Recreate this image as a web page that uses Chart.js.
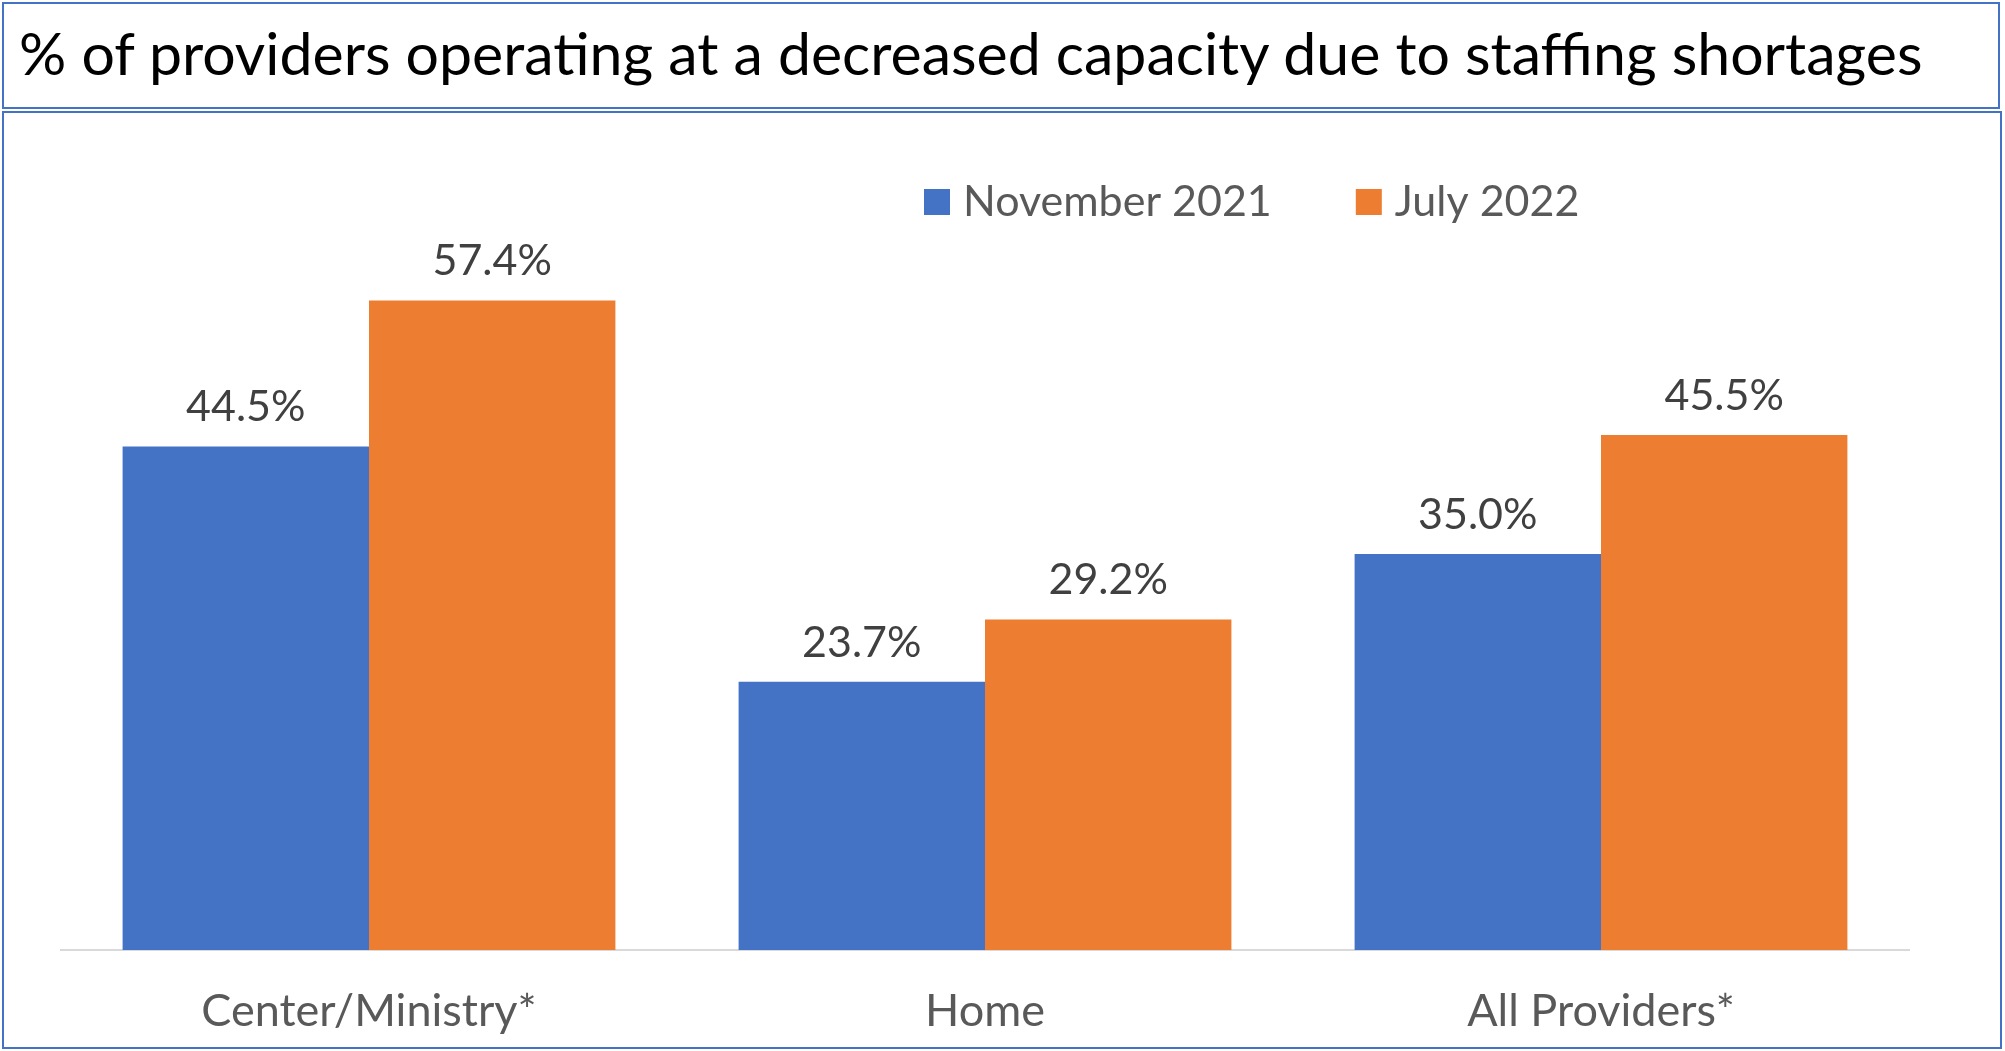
<!DOCTYPE html>
<html>
<head>
<meta charset="utf-8">
<script src="https://cdn.jsdelivr.net/npm/chart.js@4.4.1/dist/chart.umd.min.js"></script>
<style>
  body { margin: 0; width: 2005px; height: 1051px; background: #fff; overflow: hidden; position: relative; }
  #title {
    position: absolute; left: 2px; top: 2px; width: 1998px; height: 107px;
    box-sizing: border-box; border: 2px solid #4472c4;
    font: 59px Lato, sans-serif; color: #000;
    display: flex; align-items: center; padding-left: 15px; padding-bottom: 6px;
  }
  #box {
    position: absolute; left: 2px; top: 111px; width: 2000px; height: 938px;
    box-sizing: border-box; border: 2px solid #4472c4;
  }
  canvas { display: block; }
</style>
</head>
<body>
<div id="title">% of providers operating at a decreased capacity due to staffing shortages</div>
<div id="box"><canvas id="chart" width="1996" height="934"></canvas></div>
<script>
(() => {
  const categories = ["Center/Ministry*", "Home", "All Providers*"];
  const seriesNames = ["November 2021", "July 2022"];
  const nov2021 = [44.5, 23.7, 35.0];
  const jul2022 = [57.4, 29.2, 45.5];
  const colors = ["#4472c4", "#ed7d31"];

  const fontFamily = "Lato, sans-serif";

  // value labels above each bar
  const barLabels = {
    id: "barLabels",
    afterDatasetsDraw(chart) {
      const c = chart.ctx;
      c.save();
      c.font = "43px " + fontFamily;
      c.fillStyle = "#404040";
      c.textAlign = "center";
      c.textBaseline = "middle";
      chart.data.datasets.forEach((ds, i) => {
        chart.getDatasetMeta(i).data.forEach((bar, j) => {
          c.fillText(ds.data[j].toFixed(1) + "%", bar.x, bar.y - 39);
        });
      });
      c.restore();
    },
  };

  // legend drawn by hand so it can sit right of centre like the original
  const sideLegend = {
    id: "sideLegend",
    afterDraw(chart) {
      const c = chart.ctx;
      c.save();
      c.font = "43px " + fontFamily;
      c.textBaseline = "middle";
      let x = 920;
      const y = 89;
      chart.data.datasets.forEach((ds) => {
        c.fillStyle = ds.backgroundColor;
        c.fillRect(x, y - 13, 26, 26);
        x += 39;
        c.fillStyle = "#595959";
        c.fillText(ds.label, x, y);
        x += c.measureText(ds.label).width + 84;
      });
      c.restore();
    },
  };

  new Chart(document.getElementById("chart"), {
    type: "bar",
    data: {
      labels: categories,
      datasets: [
        { label: seriesNames[0], data: nov2021, backgroundColor: colors[0] },
        { label: seriesNames[1], data: jul2022, backgroundColor: colors[1] },
      ],
    },
    options: {
      responsive: false,
      animation: false,
      layout: { padding: { left: 57, right: 91, top: 158, bottom: 10 } },
      datasets: {
        bar: { categoryPercentage: 0.8, barPercentage: 1.0 },
      },
      plugins: {
        legend: { display: false },
        tooltip: { enabled: false },
      },
      scales: {
        x: {
          grid: { display: false },
          border: { display: true, color: "#d9d9d9", width: 2 },
          ticks: {
            color: "#595959",
            padding: 26,
            maxRotation: 0,
            font: { family: fontFamily, size: 45 },
          },
          afterFit(scale) {
            scale.height = 87;
          },
        },
        y: {
          display: false,
          min: 0,
          max: 60,
        },
      },
    },
    plugins: [barLabels, sideLegend],
  });
})();
</script>
</body>
</html>
